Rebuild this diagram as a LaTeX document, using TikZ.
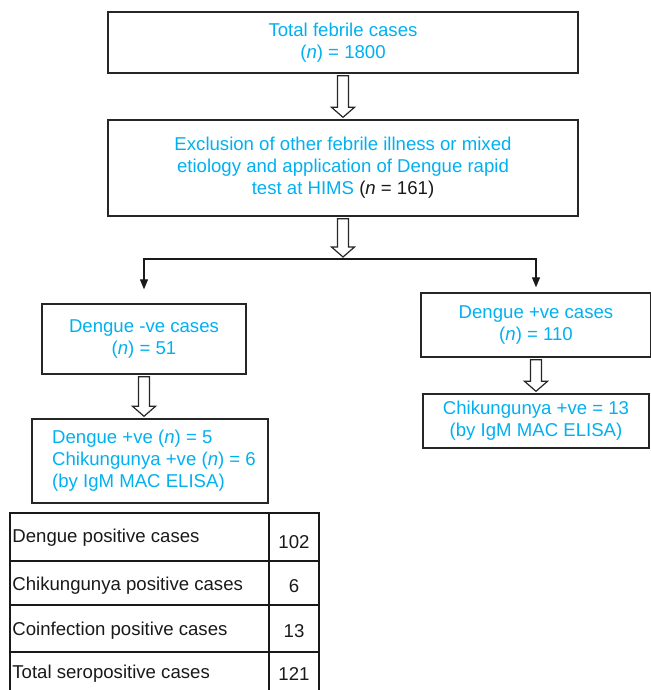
\documentclass[tikz,border=0pt]{standalone}
\usepackage{fontspec}
\setmainfont{Liberation Sans}
\usetikzlibrary{arrows.meta,calc}
\definecolor{boxtext}{RGB}{0,176,240}
\begin{document}
\begin{tikzpicture}[x=0.5pt,y=-0.5pt,
    font=\fontsize{9.3}{11}\selectfont,
    box/.style={draw=black!85, line width=0.7pt, text=boxtext, align=center, inner sep=0pt},
    hollow/.style={draw=black!85, line width=0.6pt, fill=white, line join=miter},
    tip/.style={draw=black!90, line width=0.6pt, -{Triangle[length=5pt,width=4pt]}},
    grid/.style={draw=black!90, line width=0.7pt},
    cell/.style={inner sep=0pt, text=black!90}]
  \useasboundingbox (0,0) rectangle (651,690);

  \node[box, minimum width=235pt, minimum height=30.5pt] (total) at (343,42.5)
    {Total febrile cases\\(\textit{n}) = 1800};
  \node[box, minimum width=235pt, minimum height=48pt] (excl) at (343,168)
    {Exclusion of other febrile illness or mixed\\etiology and application of Dengue rapid\\test at HIMS \textcolor{black!90}{(\textit{n} = 161)}};
  \coordinate (split) at (343,259);

  \node[box, minimum width=102pt, minimum height=35pt] (neg) at (144,339)
    {Dengue -ve cases\\(\textit{n}) = 51};
  \node[box, align=left, minimum width=118pt, minimum height=42pt] (negres) at (150,461)
    {\hspace*{4pt}Dengue +ve (\textit{n}) = 5\\\hspace*{4pt}Chikungunya +ve (\textit{n}) = 6\\\hspace*{4pt}(by IgM MAC ELISA)};

  \node[box, minimum width=115pt, minimum height=32pt] (pos) at (536,325)
    {Dengue +ve cases\\(\textit{n}) = 110};
  \node[box, minimum width=113pt, minimum height=27pt] (posres) at (536,421)
    {Chikungunya +ve = 13\\(by IgM MAC ELISA)};

  % hollow arrows
  \foreach \a/\b in {total.south/excl.north, excl.south/split, neg.south/negres.north, pos.south/posres.north}{
    \draw[hollow] ($(\a)+(-5.5,2)$) -- ($(\a |- \b)+(-5.5,-12)$) -- ++(-6,0)
      -- ($(\a |- \b)+(0,-2)$) -- ($(\a |- \b)+(11.5,-12)$) -- ++(-6,0)
      -- ($(\a)+(5.5,2)$) -- cycle;
  }

  \draw[tip, shorten >=7pt] (split) -| (neg.north);
  \draw[tip, shorten >=2.5pt] (split) -| (pos.north);

  % table
  \draw[grid] (10,690) |- (319,513) -- (319,690);
  \draw[grid] (269,513) -- (269,690);
  \foreach \y in {561,605,652}{
    \draw[grid] (10,\y) -- (319,\y);
  }
  \node[cell, anchor=west] (rowdengue) at (12,538) {Dengue positive cases};
  \node[cell, anchor=west] (rowchik) at (12,586) {Chikungunya positive cases};
  \node[cell, anchor=west] (rowcoinf) at (12,631) {Coinfection positive cases};
  \node[cell, anchor=west] (rowtotal) at (12,674) {Total seropositive cases};
  \node[cell] (numdengue) at (294,542) {102};
  \node[cell] (numchik) at (294,586) {6};
  \node[cell] (numcoinf) at (294,631) {13};
  \node[cell] (numtotal) at (294,674) {121};
\end{tikzpicture}
\end{document}
